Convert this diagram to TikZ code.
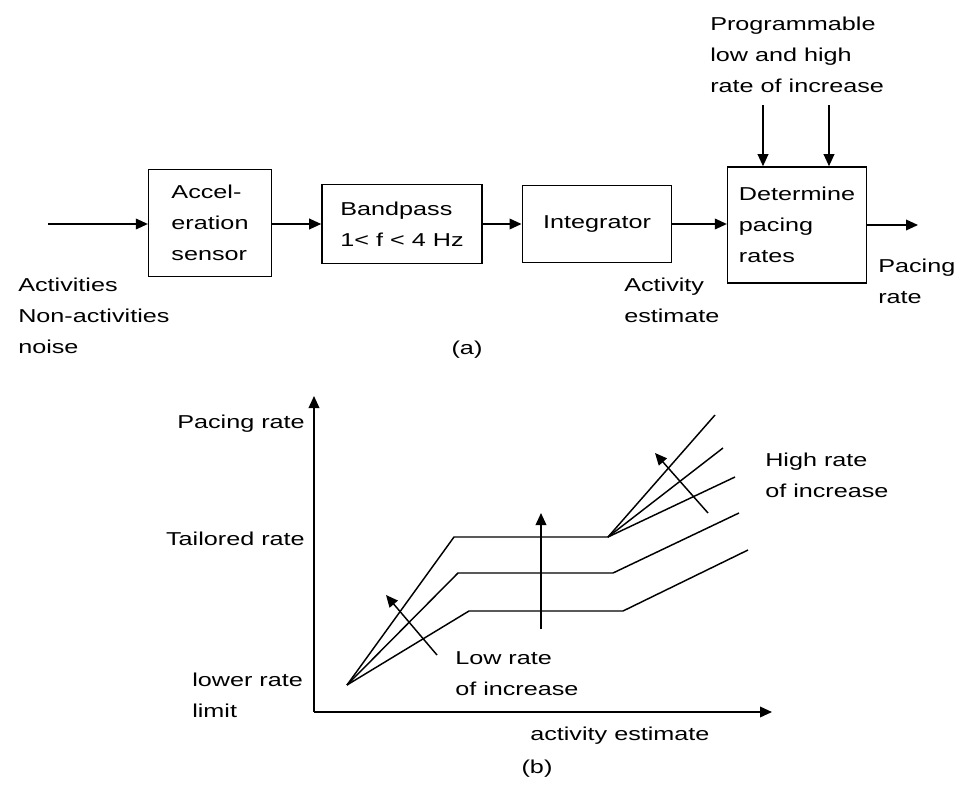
\documentclass[tikz,border=0pt]{standalone}
\usepackage{fontspec}
\setmainfont{Liberation Sans}[FakeStretch=1.35]
\usetikzlibrary{positioning,arrows.meta}

\begin{document}
\begin{tikzpicture}[x=0.75pt,y=-0.75pt,font=\fontsize{14}{23.25}\selectfont]
\tikzset{
  blk/.style={draw,line width=1.2pt,align=left,inner sep=0pt},
  ar/.style={-{Triangle[length=9pt,width=8pt]},line width=1.1pt},
  lbl/.style={align=left,inner sep=0pt,anchor=base west},
  crv/.style={line width=1.1pt}
}
\useasboundingbox (0,0) rectangle (957,785);

% (a) block diagram
\node[blk,minimum width=92pt,minimum height=80pt] (acc) at (210,223) {Accel-\\eration\\sensor};
\node[blk,minimum width=120pt,minimum height=59pt] (bp) at (402,224) {Bandpass\\1< f < 4 Hz};
\node[blk,minimum width=112pt,minimum height=58pt] (intg) at (597,224) {Integrator};
\node[blk,minimum width=104pt,minimum height=87pt] (det) at (797,225) {Determine\\pacing\\rates};
\coordinate (in) at (48,224);
\coordinate (out) at (918,225);
\coordinate (p1) at (763,105);
\coordinate (p2) at (829,105);
\draw[ar] (in) -- (acc.west |- in);
\draw[ar] (acc.east |- in) -- (bp.west |- in);
\draw[ar] (bp.east |- in) -- (intg.west |- in);
\draw[ar] (intg.east |- in) -- (det.west |- in);
\draw[ar] (det.east |- out) -- (out);
\draw[ar] (p1) -- (p1 |- det.north);
\draw[ar] (p2) -- (p2 |- det.north);

% multi-line labels sit on the baseline of their last line
\node[lbl] (prog) at (710,92) {Programmable\\low and high\\rate of increase};
\node[lbl] (inlbl) at (18,353) {Activities\\Non-activities\\noise};
\node[lbl] (est) at (624,322) {Activity\\estimate};
\node[lbl] (outlbl) at (878,303) {Pacing\\rate};
\node[inner sep=0pt,anchor=base] (capa) at (467,354) {(a)};

% (b) pacing rate curves
\coordinate (O) at (314,712);
\coordinate (ytop) at (314,396);
\coordinate (xend) at (772,712);
\draw[ar] (O) -- (ytop);
\draw[ar] (O) -- (xend);

\coordinate (lo) at (347,685);
\coordinate (kn) at (608,537);
\draw[crv] (lo) -- (454,537) -- (kn) -- (715,415);
\draw[crv] (kn) -- (723,448);
\draw[crv] (kn) -- (735,477);
\draw[crv] (lo) -- (458,573) -- (613,573) -- (739,513);
\draw[crv] (lo) -- (469,611) -- (623,611) -- (748,550);

\coordinate (la) at (437,655); \coordinate (lb) at (386,595);
\coordinate (ma) at (541,629); \coordinate (mb) at (541,513);
\coordinate (ha) at (708,513); \coordinate (hb) at (655,453);
\draw[ar] (la) -- (lb);
\draw[ar] (ma) -- (mb);
\draw[ar] (ha) -- (hb);

\node[inner sep=0pt,anchor=base east] (ylbl) at (305,428) {Pacing rate};
\node[inner sep=0pt,anchor=base east] (tail) at (305,545) {Tailored rate};
\node[lbl] (lrl) at (192,717) {lower rate\\limit};
\node[lbl] (low) at (455,695) {Low rate\\of increase};
\node[lbl] (high) at (765,497) {High rate\\of increase};
\node[lbl] (xlbl) at (530,740) {activity estimate};
\node[inner sep=0pt,anchor=base] (capb) at (537,773) {(b)};
\end{tikzpicture}
\end{document}
